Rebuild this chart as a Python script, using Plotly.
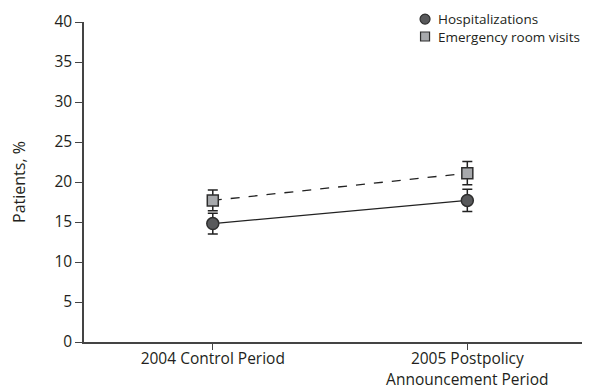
import plotly.graph_objects as go

categories = ["2004 Control Period", "2005 Postpolicy<br>Announcement Period"]
x_pos = [0, 1]
hosp = [14.8, 17.7]
hosp_err = [1.3, 1.4]
er = [17.7, 21.1]
er_err = [1.3, 1.45]
y_ticks = [0, 5, 10, 15, 20, 25, 30, 35, 40]
legend_names = ["Hospitalizations", "Emergency room visits"]

FONT = "Open Sans"
TXT = "#231f20"
CIRCLE_FILL = "#58595b"
SQUARE_FILL = "#a7a9ac"
EDGE = "#2e2e2e"

fig = go.Figure()

fig.add_trace(go.Scatter(
    x=x_pos, y=er, mode="lines+markers", showlegend=False, name=legend_names[1],
    line=dict(color="#222222", width=1.3, dash="dash"),
    marker=dict(symbol="square", size=11, color=SQUARE_FILL, line=dict(color=EDGE, width=1.5)),
    error_y=dict(type="data", array=er_err, visible=True, color="#222222", thickness=1.5, width=5),
))
fig.add_trace(go.Scatter(
    x=x_pos, y=hosp, mode="lines+markers", showlegend=False, name=legend_names[0],
    line=dict(color="#222222", width=1.3),
    marker=dict(symbol="circle", size=12, color=CIRCLE_FILL, line=dict(color=EDGE, width=1.5)),
    error_y=dict(type="data", array=hosp_err, visible=True, color="#222222", thickness=1.5, width=5),
))

# legend drawn as shapes + one two-line annotation (paper coordinates)
lx = 0.674
ly = [1.009, 0.9547]
fig.add_shape(type="circle", xref="paper", yref="paper", xsizemode="pixel", ysizemode="pixel",
              xanchor=lx, yanchor=ly[0], x0=-5, x1=5, y0=-5, y1=5,
              fillcolor=CIRCLE_FILL, line=dict(color=EDGE, width=1.2))
fig.add_shape(type="rect", xref="paper", yref="paper", xsizemode="pixel", ysizemode="pixel",
              xanchor=lx, yanchor=ly[1], x0=-4.5, x1=4.5, y0=-4.5, y1=4.5,
              fillcolor=SQUARE_FILL, line=dict(color=EDGE, width=1.2))
fig.add_annotation(x=0.696, y=(ly[0] + ly[1]) / 2, xref="paper", yref="paper",
                   text="<br>".join(legend_names), showarrow=False, align="left",
                   xanchor="left", yanchor="middle", font=dict(size=13.5, color=TXT, family=FONT))

# page has an 8px body margin, so the figure is 8px smaller and offset
fig.update_layout(
    width=582, height=380,
    margin=dict(l=76, r=0, t=14, b=46, autoexpand=False),
    plot_bgcolor="white", paper_bgcolor="white",
    font=dict(family=FONT, size=15, color=TXT),
    showlegend=False,
    xaxis=dict(range=[-0.506, 1.482], tickvals=x_pos, ticktext=categories,
               showline=True, linecolor="#444444", linewidth=1.5,
               ticks="outside", ticklen=6, tickcolor="#444444", tickwidth=1.2,
               ticklabelstandoff=-4,
               showgrid=False, zeroline=False, tickfont=dict(size=15.5), automargin=False),
    yaxis=dict(range=[0, 40], tickvals=y_ticks,
               showline=True, linecolor="#444444", linewidth=1.5,
               ticks="outside", ticklen=7, tickcolor="#444444", tickwidth=1.2,
               showgrid=False, zeroline=False, tickfont=dict(size=15.5), automargin=False,
               title=dict(text="Patients, %", font=dict(size=16), standoff=27)),
)

fig.write_html("out.html")
